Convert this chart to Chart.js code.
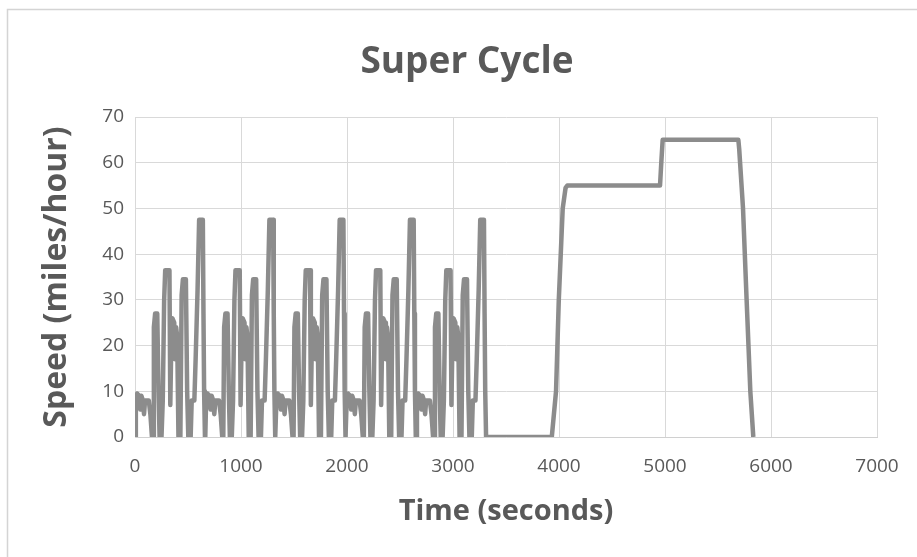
<!DOCTYPE html>
<html>
<head>
<meta charset="utf-8">
<script src="https://cdn.jsdelivr.net/npm/chart.js@4/dist/chart.umd.min.js"></script>
<style>
  html, body { margin: 0; padding: 0; background: #ffffff; }
  #wrap { width: 917px; height: 557px; position: relative; }
</style>
</head>
<body>
<div id="wrap"><canvas id="c" width="917" height="557"></canvas></div>
<script>
// ---- Data ----
const chartTitle = "Super Cycle";
const xAxisTitle = "Time (seconds)";
const yAxisTitle = "Speed (miles/hour)";

// One city cycle (seconds from cycle start, speed in mph), repeated five times
const cycleTimes  = [0, 8, 20, 40, 50, 60, 75, 85, 95, 130, 145, 160, 170, 178, 190, 210, 222, 232, 250, 262, 275, 285, 325, 333, 345, 352, 370, 378, 388, 398, 410, 428, 440, 452, 480, 492, 503, 525, 535, 560, 572, 590, 605, 640, 646, 652, 660];
const cycleSpeeds = [0, 8, 9.5, 9, 6, 9, 8, 5, 8, 8, 5, 0, 0, 24, 27, 27, 10, 0, 0, 8, 30, 36.5, 36.5, 7, 24, 26, 25, 17, 24, 22, 0, 0, 31, 34.5, 34.5, 10, 0, 0, 8, 8, 17, 32, 47.5, 47.5, 27, 10, 0];
const cycleStarts = [0, 663, 1326, 1989, 2652];

// Idle gap and highway portion
const highwayTimes  = [3340, 3932, 3972, 3998, 4035, 4062, 4078, 4953, 4965, 4978, 5692, 5700, 5736, 5770, 5805, 5833];
const highwaySpeeds = [0, 0, 10, 30, 50, 54.5, 55, 55, 60, 65, 65, 63, 50, 30, 10, 0];

const xTicks = [0, 1000, 2000, 3000, 4000, 5000, 6000, 7000];
const yTicks = [0, 10, 20, 30, 40, 50, 60, 70];

// ---- Build the point table for the library ----
const points = [];
cycleStarts.forEach(function (s) {
  cycleTimes.forEach(function (t, i) { points.push({ x: s + t, y: cycleSpeeds[i] }); });
});
highwayTimes.forEach(function (t, i) { points.push({ x: t, y: highwaySpeeds[i] }); });

const FONT = "'Open Sans', 'Liberation Sans', sans-serif";
const TEXT = '#595959';

const frame = {
  id: 'frame',
  beforeDraw(chart) {
    const ctx = chart.ctx;
    ctx.save();
    ctx.fillStyle = '#ffffff';
    ctx.fillRect(0, 0, chart.width, chart.height);
    ctx.strokeStyle = '#d4d4d4';
    ctx.lineWidth = 1.5;
    ctx.beginPath();
    ctx.moveTo(7.5, chart.height);
    ctx.lineTo(7.5, 9.5);
    ctx.lineTo(chart.width, 9.5);
    ctx.stroke();
    ctx.restore();
  }
};

new Chart(document.getElementById('c'), {
  type: 'scatter',
  data: {
    datasets: [{
      data: points,
      showLine: true,
      borderColor: '#8c8c8c',
      backgroundColor: '#8c8c8c',
      borderWidth: 4.5,
      pointRadius: 0,
      tension: 0,
      borderJoinStyle: 'round'
    }]
  },
  plugins: [frame],
  options: {
    responsive: false,
    animation: false,
    layout: { padding: { top: 10, left: 17, right: 0, bottom: 0 } },
    plugins: {
      legend: { display: false },
      tooltip: { enabled: false },
      title: {
        display: true,
        text: chartTitle,
        color: TEXT,
        font: { family: FONT, size: 37, weight: 'bold', lineHeight: 1.2 },
        padding: { top: 30, bottom: 32.6 }
      }
    },
    scales: {
      x: {
        type: 'linear',
        min: 0, max: 7000,
        afterBuildTicks(scale) { scale.ticks = xTicks.map(v => ({ value: v })); },
        afterFit(scale) { scale.height = 120; },
        grid: { color: '#d9d9d9', lineWidth: 1, drawTicks: false },
        border: { display: true, color: '#d0d0d0', width: 1 },
        ticks: {
          color: TEXT, font: { family: FONT, size: 19 }, padding: 18, maxRotation: 0, autoSkip: false,
          callback: function (v) { return String(v); }
        },
        title: {
          display: true, text: xAxisTitle, color: TEXT,
          font: { family: FONT, size: 29, weight: 'bold', lineHeight: 1.2 },
          padding: { top: 28, bottom: 28 }
        }
      },
      y: {
        type: 'linear',
        min: 0, max: 70,
        afterBuildTicks(scale) { scale.ticks = yTicks.map(v => ({ value: v })); },
        afterFit(scale) { scale.width = 118; },
        grid: { color: '#d9d9d9', lineWidth: 1, drawTicks: false },
        border: { display: true, color: '#d9d9d9', width: 1 },
        ticks: {
          color: TEXT, font: { family: FONT, size: 19 }, padding: 11,
          callback: function (v) { return String(v); }
        },
        title: {
          display: true, text: yAxisTitle, color: TEXT,
          font: { family: FONT, size: 32, weight: 'bold', lineHeight: 1.2 },
          padding: { top: 21, bottom: 0 }
        }
      },
      rightMargin: {
        type: 'linear',
        position: 'right',
        display: true,
        afterFit(scale) { scale.width = 40; },
        grid: { display: false, drawTicks: false },
        border: { display: false },
        ticks: { display: false },
        title: { display: false }
      }
    }
  }
});
</script>
</body>
</html>
